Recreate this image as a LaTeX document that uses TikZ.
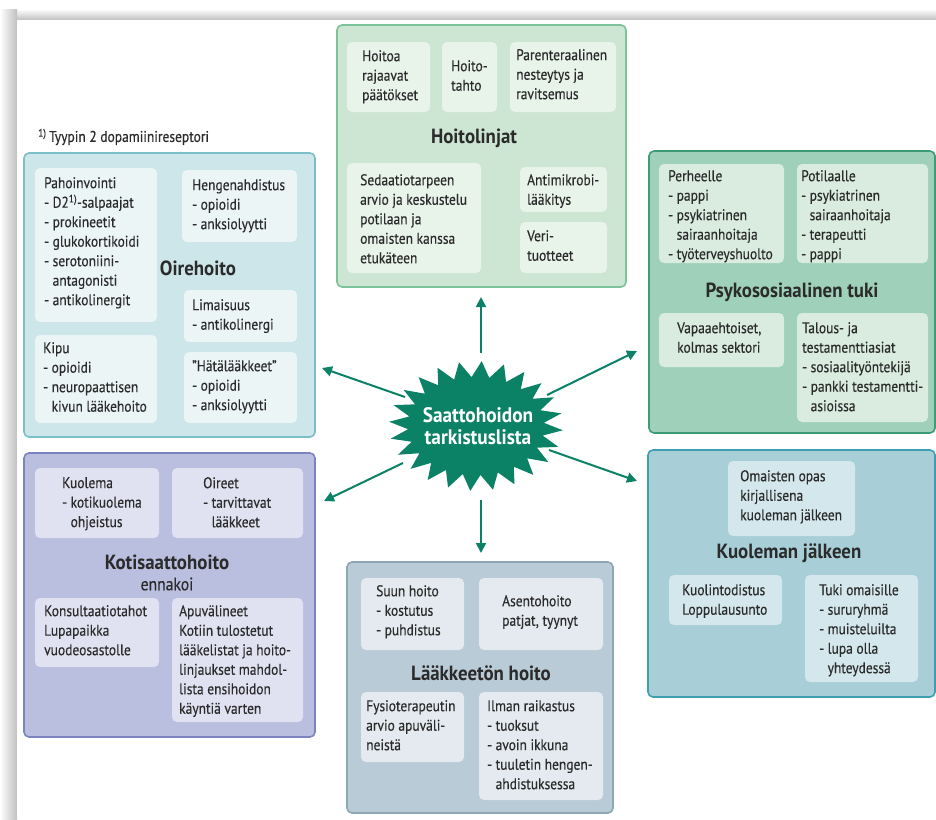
\documentclass[tikz,border=0pt]{standalone}
\usepackage{fontspec}
\setmainfont{PT Sans}[FakeStretch=0.92]
\newfontfamily\bodyf{PT Sans}[FakeStretch=0.87, FakeBold=0.35]
\usetikzlibrary{arrows.meta}
\definecolor{txtc}{HTML}{2B2B2B}
\definecolor{starc}{HTML}{0B8266}
\definecolor{pAf}{HTML}{CDE6D3}\definecolor{pAd}{HTML}{7CC29B}\definecolor{pAi}{HTML}{E8F3EA}
\definecolor{pBf}{HTML}{CCE6E9}\definecolor{pBd}{HTML}{7DBFC8}\definecolor{pBi}{HTML}{EBF5F6}
\definecolor{pCf}{HTML}{9FD0B9}\definecolor{pCd}{HTML}{3D9B78}\definecolor{pCi}{HTML}{D9ECDF}
\definecolor{pDf}{HTML}{BABEDF}\definecolor{pDd}{HTML}{7C83C0}\definecolor{pDi}{HTML}{E0E2F1}
\definecolor{pEf}{HTML}{B9CBD6}\definecolor{pEd}{HTML}{8EA7B6}\definecolor{pEi}{HTML}{E4EAEF}
\definecolor{pFf}{HTML}{A8CED8}\definecolor{pFd}{HTML}{3E9FB3}\definecolor{pFi}{HTML}{D3E7EC}
\newcommand{\hg}{\hphantom{- }}
\begin{document}
\begin{tikzpicture}[x=1pt,y=-1pt,
  panel/.style 2 args={fill=#1, draw=#2, line width=1.6pt, rounded corners=5pt},
  ibox/.style={fill=#1, rounded corners=5pt},
  txt/.style={anchor=north west, inner sep=0pt, align=left, text=txtc,
    font=\bodyf\fontsize{15.5}{19.5}\selectfont},
  ttl/.style={anchor=center, inner sep=0pt, text=txtc,
    font=\fontsize{20.5}{23}\selectfont\bfseries},
  arr/.style={draw=starc, line width=2pt, -{Triangle[length=10pt,width=10pt]}}]
\useasboundingbox (0,0) rectangle (936,819);
% page shadow
\shade[top color=white, bottom color=gray!50] (0,9) rectangle (936,20);
\shade[left color=white, right color=gray!50] (0,9) rectangle (17,819);
\fill[white] (17,20) rectangle (936,819);

% ---------- Hoitolinjat ----------
\draw[panel={pAf}{pAd}] (337,25) rectangle (626,287);
\fill[ibox=pAi] (347,42) rectangle (430,112);
\fill[ibox=pAi] (442,42) rectangle (497,112);
\fill[ibox=pAi] (510,42) rectangle (616,112);
\fill[ibox=pAi] (347,163) rectangle (481,273);
\fill[ibox=pAi] (520,167) rectangle (607,212);
\fill[ibox=pAi] (520,222) rectangle (607,273);
\node[txt] (a1) at (362,50) {Hoitoa\\rajaavat\\päätökset};
\node[txt] (a2) at (451,60) {Hoito-\\tahto};
\node[txt] (a3) at (516,49) {Parenteraalinen\\nesteytys ja\\ravitsemus};
\node[ttl] (aT) at (474,138) {Hoitolinjat};
\node[txt] (a4) at (360,174) {Sedaatiotarpeen\\arvio ja keskustelu\\potilaan ja\\omaisten kanssa\\etukäteen};
\node[txt] (a5) at (527,174) {Antimikrobi-\\lääkitys};
\node[txt] (a6) at (527,230) {Veri-\\tuotteet};

% ---------- Oirehoito ----------
\node[txt, anchor=west] (fn) at (38,137) {\textsuperscript{1)}\,Tyypin 2 dopamiinireseptori};
\draw[panel={pBf}{pBd}] (24,153) rectangle (315,437);
\fill[ibox=pBi] (35,168) rectangle (157,322);
\fill[ibox=pBi] (182,170) rectangle (297,242);
\fill[ibox=pBi] (184,290) rectangle (297,342);
\fill[ibox=pBi] (35,335) rectangle (157,423);
\fill[ibox=pBi] (184,352) rectangle (297,423);
\node[txt] (b1) at (44,177) {Pahoinvointi\\- D2\textsuperscript{1)}-salpaajat\\- prokineetit\\- glukokortikoidi\\- serotoniini-\\\hg antagonisti\\- antikolinergit};
\node[txt] (b2) at (192,179) {Hengenahdistus\\- opioidi\\- anksiolyytti};
\node[ttl] (bT) at (198,268) {Oirehoito};
\node[txt] (b3) at (192,299) {Limaisuus\\- antikolinergi};
\node[txt] (b4) at (43,342) {Kipu\\- opioidi\\- neuropaattisen\\\hg kivun lääkehoito};
\node[txt] (b5) at (192,360) {”Hätälääkkeet”\\- opioidi\\- anksiolyytti};

% ---------- Psykososiaalinen tuki ----------
\draw[panel={pCf}{pCd}] (649,151) rectangle (935,433);
\fill[ibox=pCi] (659,164) rectangle (784,263);
\fill[ibox=pCi] (797,164) rectangle (928,263);
\fill[ibox=pCi] (659,313) rectangle (784,367);
\fill[ibox=pCi] (797,313) rectangle (928,422);
\node[txt] (c1) at (668,170) {Perheelle\\- pappi\\- psykiatrinen\\\hg sairaanhoitaja\\- työterveyshuolto};
\node[txt] (c2) at (801,170) {Potilaalle\\- psykiatrinen\\\hg sairaanhoitaja\\- terapeutti\\- pappi};
\node[ttl] (cT) at (792,292) {Psykososiaalinen tuki};
\node[txt] (c3) at (677,322) {Vapaaehtoiset,\\kolmas sektori};
\node[txt] (c4) at (802,322) {Talous- ja\\testamenttiasiat\\- sosiaalityöntekijä\\- pankki testamentti-\\\hg asioissa};

% ---------- Kotisaattohoito ----------
\draw[panel={pDf}{pDd}] (24,453) rectangle (315,737);
\fill[ibox=pDi] (35,468) rectangle (159,538);
\fill[ibox=pDi] (172,468) rectangle (303,538);
\fill[ibox=pDi] (35,598) rectangle (159,667);
\fill[ibox=pDi] (172,598) rectangle (303,722);
\node[txt] (d1) at (62,477) {Kuolema\\- kotikuolema\\\hg ohjeistus};
\node[txt] (d2) at (203,477) {Oireet\\- tarvittavat\\\hg lääkkeet};
\node[ttl] (dT) at (167,562) {Kotisaattohoito};
\node[anchor=center, inner sep=0pt, text=txtc, font=\bodyf\fontsize{18}{20}\selectfont] (dS) at (167,584) {ennakoi};
\node[txt] (d3) at (44,605) {Konsultaatiotahot\\Lupapaikka\\vuodeosastolle};
\node[txt] (d4) at (179,605) {Apuvälineet\\Kotiin tulostetut\\lääkelistat ja hoito-\\linjaukset mahdol-\\lista ensihoidon\\käyntiä varten};

% ---------- Lääkkeetön hoito ----------
\draw[panel={pEf}{pEd}] (347,562) rectangle (613,813);
\fill[ibox=pEi] (361,578) rectangle (464,650);
\fill[ibox=pEi] (479,578) rectangle (603,650);
\fill[ibox=pEi] (361,692) rectangle (464,762);
\fill[ibox=pEi] (479,692) rectangle (603,800);
\node[txt] (e1) at (376,585) {Suun hoito\\- kostutus\\- puhdistus};
\node[txt] (e2) at (502,595) {Asentohoito\\patjat, tyynyt};
\node[ttl] (eT) at (481,673) {Lääkkeetön hoito};
\node[txt] (e3) at (366,700) {Fysioterapeutin\\arvio apuväli-\\neistä};
\node[txt] (e4) at (487,700) {Ilman raikastus\\- tuoksut\\- avoin ikkuna\\- tuuletin hengen-\\\hg ahdistuksessa};

% ---------- Kuoleman jälkeen ----------
\draw[panel={pFf}{pFd}] (648,450) rectangle (935,697);
\fill[ibox=pFi] (728,461) rectangle (855,536);
\fill[ibox=pFi] (669,575) rectangle (782,625);
\fill[ibox=pFi] (805,575) rectangle (918,682);
\node[txt] (f1) at (740,470) {Omaisten opas\\kirjallisena\\kuoleman jälkeen};
\node[ttl] (fT) at (789,553) {Kuoleman jälkeen};
\node[txt] (f2) at (682,584) {Kuolintodistus\\Loppulausunto};
\node[txt] (f3) at (819,584) {Tuki omaisille\\- sururyhmä\\- muisteluilta\\- lupa olla\\\hg yhteydessä};

% ---------- Star ----------
\fill[starc, shift={(476,426)}] plot[samples at={0,...,47}, variable=\k]
  ({(isodd(\k) ? 68 : 87)*cos(\k*7.5+3.75)}, {(isodd(\k) ? 49 : 65)*sin(\k*7.5+3.75)}) -- cycle;
\node[anchor=center, inner sep=0pt, align=center, text=white,
  font=\fontsize{21}{22.5}\selectfont\bfseries] (star) at (478,426) {Saattohoidon\\tarkistuslista};

% arrow end points
\coordinate (sU) at (481,353); \coordinate (tU) at (481,297);
\coordinate (sD) at (481,500); \coordinate (tD) at (481,553);
\coordinate (sUL) at (405,397); \coordinate (tUL) at (322,368);
\coordinate (sDL) at (403,463); \coordinate (tDL) at (324,501);
\coordinate (sUR) at (547,395); \coordinate (tUR) at (637,351);
\coordinate (sDR) at (549,450); \coordinate (tDR) at (637,481);
\draw[arr] (sU) -- (tU);
\draw[arr] (sD) -- (tD);
\draw[arr] (sUL) -- (tUL);
\draw[arr] (sDL) -- (tDL);
\draw[arr] (sUR) -- (tUR);
\draw[arr] (sDR) -- (tDR);
\end{tikzpicture}
\end{document}
